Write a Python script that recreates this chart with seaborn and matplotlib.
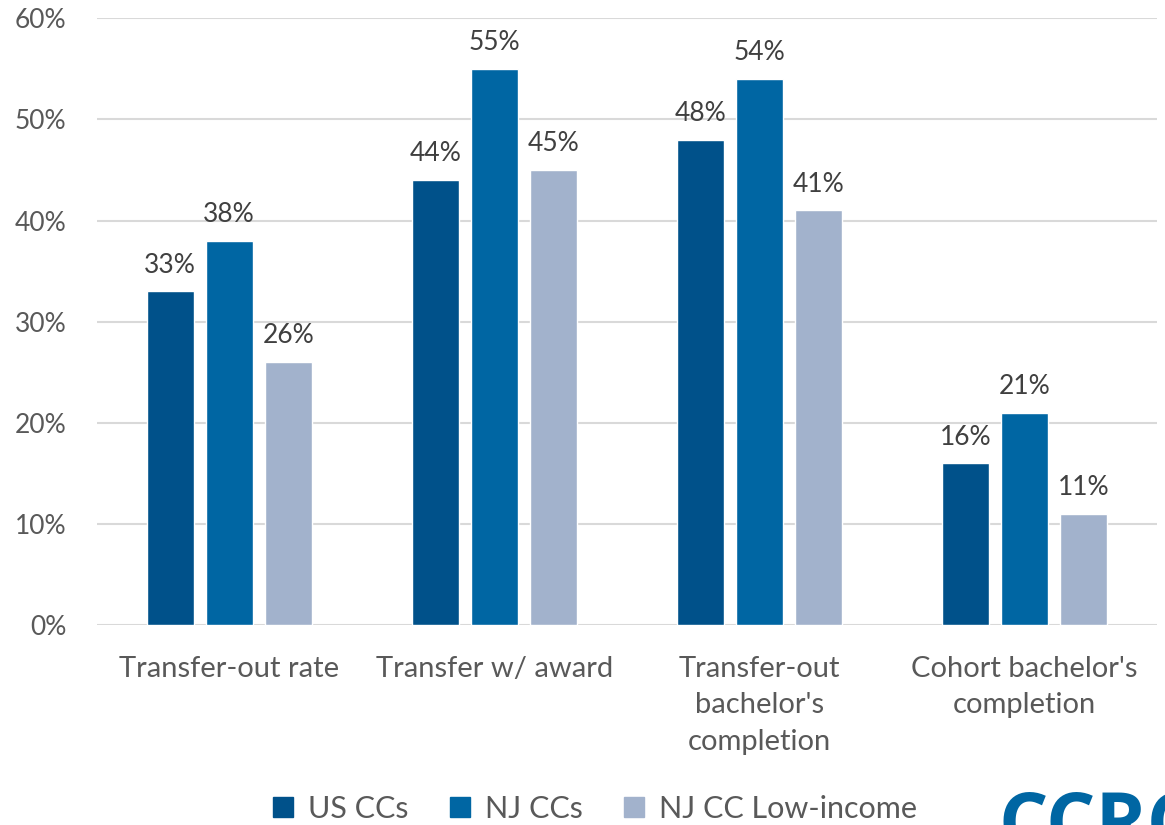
import pandas as pd
import matplotlib.pyplot as plt
import seaborn as sns

# ============================================
# DATA
# ============================================

categories = ["Transfer-out rate", "Transfer w/ award",
              "Transfer-out\nbachelor's\ncompletion", "Cohort bachelor's\ncompletion"]
series = ["US CCs", "NJ CCs", "NJ CC Low-income"]
us_ccs = [33, 44, 48, 16]
nj_ccs = [38, 55, 54, 21]
nj_low = [26, 45, 41, 11]
yticks = [0, 10, 20, 30, 40, 50, 60]

colors = ["#00518A", "#0066A3", "#A2B2CC"]
text_color = "#595959"

df = pd.DataFrame({
    "Category": categories * 3,
    "Series": [series[0]] * 4 + [series[1]] * 4 + [series[2]] * 4,
    "Value": us_ccs + nj_ccs + nj_low,
})

# ============================================
# PLOT
# ============================================

sns.set_style("white")
plt.rcParams["font.family"] = ["Lato", "DejaVu Sans"]

fig = plt.figure(figsize=(11.65, 8.25), dpi=100)
ax = fig.add_axes([0.083, 0.242, 0.91, 0.736])

sns.barplot(data=df, x="Category", y="Value", hue="Series", palette=colors,
            width=0.668, gap=0.2, saturation=1, ax=ax, legend=False)

for cont in ax.containers:
    ax.bar_label(cont, labels=[f"{v:.0f}%" for v in cont.datavalues],
                 padding=10, fontsize=19, color="#404040")

ax.set_ylim(0, 60)
ax.set_xlim(-0.5, 3.5)
ax.set_yticks(yticks)
ax.set_yticklabels([f"{t}%" for t in yticks])
ax.yaxis.grid(True, color="#D9D9D9", linewidth=1.5)
ax.set_axisbelow(True)
for s in ax.spines.values():
    s.set_visible(False)
ax.tick_params(axis="both", length=0, colors=text_color)
ax.tick_params(axis="x", pad=22, labelsize=21)
ax.tick_params(axis="y", pad=22, labelsize=19)
for lbl in ax.get_xticklabels():
    lbl.set_linespacing(1.5)
ax.set_xlabel("")
ax.set_ylabel("")

# legend
handles = [plt.Rectangle((0, 0), 1, 1, color=c) for c in colors]
leg = fig.legend(handles, series, loc="center", bbox_to_anchor=(0.511, 0.02),
                 ncol=3, frameon=False, fontsize=22, handlelength=0.65,
                 handleheight=0.65, handletextpad=0.5, columnspacing=1.35)
for t in leg.get_texts():
    t.set_color(text_color)

# logo (cut off at the bottom edge, as in the source)
fig.text(0.857, -0.029, "CCRC", fontsize=56, fontweight="bold", color="#0066A3",
         va="baseline", ha="left", family=["Open Sans", "DejaVu Sans"])

plt.savefig("out.png", dpi=100)
